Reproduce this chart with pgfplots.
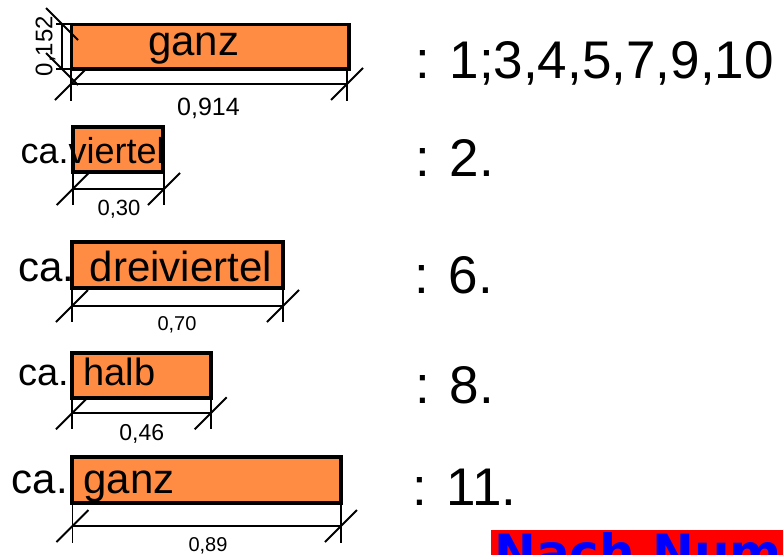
\documentclass[border=0pt]{standalone}
\usepackage{pgfplots}
\pgfplotsset{compat=1.18}
\usepackage{fontspec}
\setmainfont{Liberation Sans}
\newfontfamily\dejavu{DejaVu Sans}

\definecolor{brickorange}{RGB}{255,140,66}
\definecolor{tagred}{RGB}{255,0,0}
\definecolor{tagblue}{RGB}{0,0,255}

% dimension ticks: "/" for horizontal, "\" for vertical dimension lines
\pgfdeclareplotmark{hslash}{%
  \pgfpathmoveto{\pgfqpoint{-\pgfplotmarksize}{-\pgfplotmarksize}}%
  \pgfpathlineto{\pgfqpoint{\pgfplotmarksize}{\pgfplotmarksize}}%
  \pgfusepathqstroke}
\pgfdeclareplotmark{vslash}{%
  \pgfpathmoveto{\pgfqpoint{-\pgfplotmarksize}{\pgfplotmarksize}}%
  \pgfpathlineto{\pgfqpoint{\pgfplotmarksize}{-\pgfplotmarksize}}%
  \pgfusepathqstroke}

\newcommand{\fs}[1]{\fontsize{#1}{#1}\selectfont}
\tikzset{lbl/.style={anchor=base west, inner sep=0pt}}

\begin{document}
\begin{tikzpicture}
\begin{axis}[
  width=783pt, height=554pt, scale only axis,
  xmin=0, xmax=783, ymin=0, ymax=554, y dir=reverse,
  hide axis, clip=true,
  stone/.style={fill=brickorange, draw=black, line width=3.8pt, line join=miter},
  ext/.style={black, line width=1.7pt},
  dim/.style={black, line width=1.7pt, mark=hslash, mark size=16pt,
    mark options={line width=2pt, solid}},
]

% ganz (oben)
\addplot[stone] coordinates {(71.5,24.5) (349,24.5) (349,69) (71.5,69)} -- cycle;
\addplot[ext] coordinates {(71,69) (71,101)};
\addplot[ext] coordinates {(347,69) (347,101)};
\addplot[dim] coordinates {(71,84) (347,84)};
\addplot[ext] coordinates {(56,24) (71,24)};
\addplot[ext] coordinates {(56,69) (71,69)};
\addplot[dim, mark=vslash] coordinates {(62,24) (62,69)};

% viertel
\addplot[stone] coordinates {(72.7,126.7) (163.3,126.7) (163.3,171.7) (72.7,171.7)} -- cycle;
\addplot[ext] coordinates {(72.7,171.7) (72.7,205)};
\addplot[ext] coordinates {(164,171.7) (164,205)};
\addplot[dim] coordinates {(72.7,189) (164,189)};

% dreiviertel
\addplot[stone] coordinates {(72.3,242.3) (283.3,242.3) (283.3,287.7) (72.3,287.7)} -- cycle;
\addplot[ext] coordinates {(72,287.7) (72,322)};
\addplot[ext] coordinates {(283,287.7) (283,322)};
\addplot[dim] coordinates {(72,306) (283,306)};

% halb
\addplot[stone] coordinates {(71.7,353.3) (211,353.3) (211,398.3) (71.7,398.3)} -- cycle;
\addplot[ext] coordinates {(72,398.3) (72,429.3)};
\addplot[ext] coordinates {(210.7,398.3) (210.7,429.3)};
\addplot[dim] coordinates {(72,413.3) (210.7,413.3)};

% ganz (unten)
\addplot[stone] coordinates {(72.3,456.7) (341,456.7) (341,502.7) (72.3,502.7)} -- cycle;
\addplot[ext] coordinates {(72.5,502.7) (72.5,542.7)};
\addplot[ext] coordinates {(341,502.7) (341,542.7)};
\addplot[dim] coordinates {(72.5,526) (341,526)};

% Banner unten rechts
\addplot[fill=tagred, draw=none] coordinates {(491,530) (800,530) (800,600) (491,600)} -- cycle;

% Beschriftung der Steine
\node[lbl, font=\fs{42}] at (axis cs:148,55) {ganz};
\node[lbl, font=\fs{36}] at (axis cs:20.5,163.3) {ca.viertel};
\node[lbl, font=\fs{42}] at (axis cs:18,281.7) {ca. dreiviertel};
\node[lbl, font=\fs{38}] at (axis cs:18.6,385) {ca. halb};
\node[lbl, font=\fs{42}] at (axis cs:11.7,493.3) {ca. ganz};

% Masse
\node[anchor=base, inner sep=0pt, font=\fs{25}] at (axis cs:208.5,115) {0,914};
\node[anchor=center, inner sep=0pt, font=\fs{24}, rotate=90] at (axis cs:45.5,46) {0,152};
\node[anchor=base, inner sep=0pt, font=\fs{22}] at (axis cs:119,215) {0,30};
\node[anchor=base, inner sep=0pt, font=\fs{20}] at (axis cs:177,330) {0,70};
\node[anchor=base, inner sep=0pt, font=\fs{23}] at (axis cs:141.7,440) {0,46};
\node[anchor=base, inner sep=0pt, font=\fs{20}] at (axis cs:208,551) {0,89};

% Nummern rechts
\node[lbl, font=\fs{53}] at (axis cs:415,78) {: 1;3,4,5,7,9,10};
\node[lbl, font=\fs{53}] at (axis cs:415,176.7) {: 2.};
\node[lbl, font=\fs{53}] at (axis cs:414,293.3) {: 6.};
\node[lbl, font=\fs{53}] at (axis cs:415,403.3) {: 8.};
\node[lbl, font=\fs{53}] at (axis cs:412,505) {: 11.};

\node[lbl, font=\dejavu\bfseries\fs{50}, text=tagblue] at (axis cs:494,570) {Nach Nummer};

\end{axis}
\pgfresetboundingbox
\useasboundingbox (current axis.south west) rectangle (current axis.north east);
\end{tikzpicture}
\end{document}
